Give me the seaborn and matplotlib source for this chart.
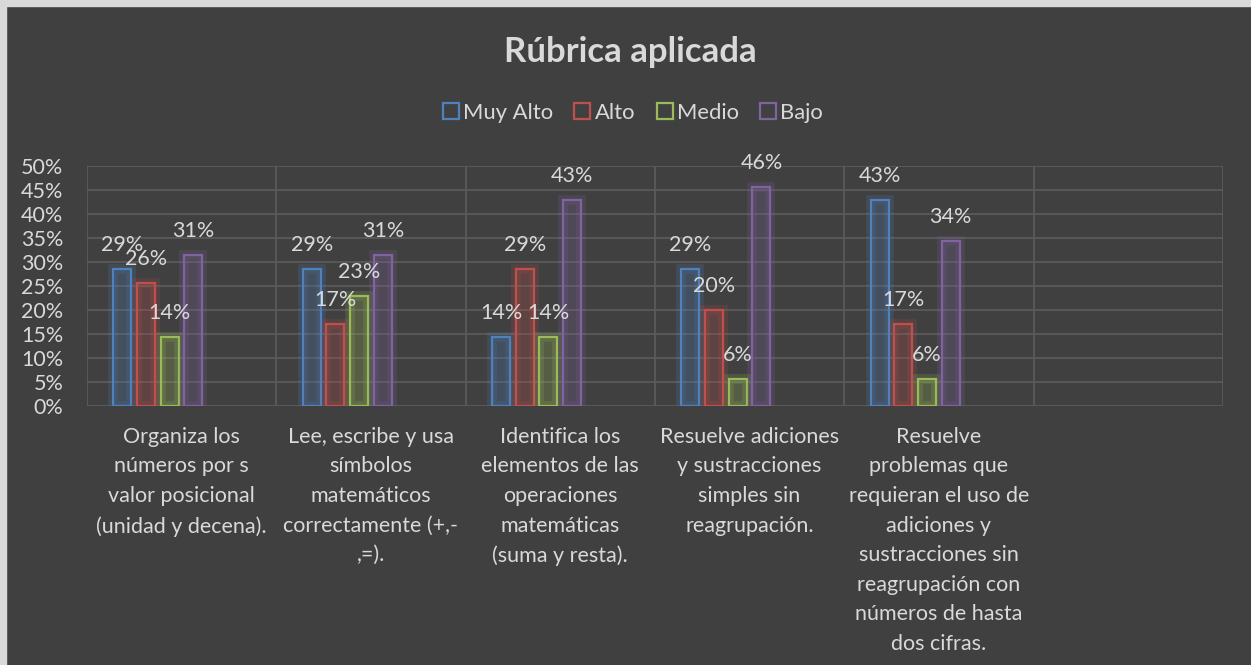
import numpy as np
import pandas as pd
import matplotlib
matplotlib.use('Agg')
import matplotlib.pyplot as plt
import matplotlib.patheffects as pe
from matplotlib.lines import Line2D
from matplotlib.patches import Rectangle
from matplotlib.ticker import FuncFormatter
import seaborn as sns

# datos (porcentaje de alumnos por nivel)
categorias = [
    "Organiza los\nnúmeros por s\nvalor posicional\n(unidad y decena).",
    "Lee, escribe y usa\nsímbolos\nmatemáticos\ncorrectamente (+,-\n,=).",
    "Identifica los\nelementos de las\noperaciones\nmatemáticas\n(suma y resta).",
    "Resuelve adiciones\ny sustracciones\nsimples sin\nreagrupación.",
    "Resuelve\nproblemas que\nrequieran el uso de\nadiciones y\nsustracciones sin\nreagrupación con\nnúmeros de hasta\ndos cifras.",
]
niveles = ["Muy Alto", "Alto", "Medio", "Bajo"]
muy_alto = [28.6, 28.6, 14.3, 28.6, 42.9]
alto = [25.7, 17.1, 28.6, 20.0, 17.1]
medio = [14.3, 22.9, 14.3, 5.7, 5.7]
bajo = [31.4, 31.4, 42.9, 45.7, 34.3]
colores = ["#4F81BD", "#C0504D", "#9BBB59", "#8064A2"]

bg = "#404040"
txt = "#d9d9d9"
grid_c = "#5a5a5a"
fs = 15.5

sns.set_style("dark", rc={"axes.facecolor": bg, "figure.facecolor": bg,
                          "grid.color": grid_c, "axes.edgecolor": bg})
plt.rcParams['font.family'] = ['Lato', 'DejaVu Sans']

df = pd.DataFrame({"categoria": np.repeat(categorias, 4),
                   "nivel": niveles * len(categorias),
                   "valor": np.ravel(np.column_stack([muy_alto, alto, medio, bajo]))})

# two empty series in the original workbook keep the space on the right of each group
hue_order = niveles + ["_v1", "_v2"]
pal = dict(zip(hue_order, colores + ["#000000", "#000000"]))

fig = plt.figure(figsize=(12.51, 6.65), dpi=100)
ax = fig.add_axes([0.0695, 0.3895, 0.908, 0.361])

sns.barplot(data=df, x="categoria", y="valor", hue="nivel", hue_order=hue_order,
            palette=pal, order=categorias, width=0.75, gap=0.24, legend=False, ax=ax)

for cont, c in zip(ax.containers, colores):
    for bar in cont:
        bar.set_facecolor(matplotlib.colors.to_rgba(c, 0.08))
        bar.set_edgecolor(c)
        bar.set_linewidth(1.6)
        bar.set_path_effects([pe.Stroke(linewidth=7, foreground=c, alpha=0.18), pe.Normal()])
        h = bar.get_height()
        ax.annotate(f"{h:.0f}%", (bar.get_x() + bar.get_width() / 2, h),
                    xytext=(0, 13), textcoords="offset points", ha="center",
                    va="baseline", color=txt, fontsize=fs)

ax.set_xlim(-0.5, 5.5)
ax.set_ylim(0, 50)
ax.set_yticks(np.arange(0, 51, 5))
ax.yaxis.set_major_formatter(FuncFormatter(lambda v, p: f"{v:.0f}%"))
ax.set_xticks(range(len(categorias)))
ax.set_xticklabels(categorias, linespacing=1.6)
ax.set_xticks(np.arange(-0.5, 6, 1), minor=True)
ax.grid(axis="y", which="major", color=grid_c, linewidth=1.3)
ax.grid(axis="x", which="minor", color=grid_c, linewidth=1.3)
ax.grid(axis="x", which="major", visible=False)
ax.tick_params(axis="both", which="both", length=0, colors=txt, labelsize=fs)
ax.tick_params(axis="y", pad=17)
ax.tick_params(axis="x", pad=15)
ax.set_xlabel("")
ax.set_ylabel("")
for s in ax.spines.values():
    s.set_visible(False)

fig.text(0.504, 0.922, "Rúbrica aplicada", ha="center", va="center",
         fontsize=25, fontweight="bold", color=txt)

handles = [Line2D([], [], marker="s", linestyle="none", markersize=11,
                  markerfacecolor="none", markeredgecolor=c, markeredgewidth=1.6)
           for c in colores]
fig.legend(handles, niveles, loc="center", bbox_to_anchor=(0.506, 0.83), ncol=4,
           frameon=False, fontsize=15.8, labelcolor=txt, handlelength=0.7,
           handletextpad=0.2, columnspacing=1.0)

# light border on the top and left edges
fig.patches.append(Rectangle((0, 1 - 6 / 665), 1, 6 / 665, transform=fig.transFigure,
                             color="#d9d9d9", zorder=0))
fig.patches.append(Rectangle((0, 0), 6 / 1251, 1, transform=fig.transFigure,
                             color="#d9d9d9", zorder=0))

fig.savefig("out.png", dpi=100, facecolor=bg)
